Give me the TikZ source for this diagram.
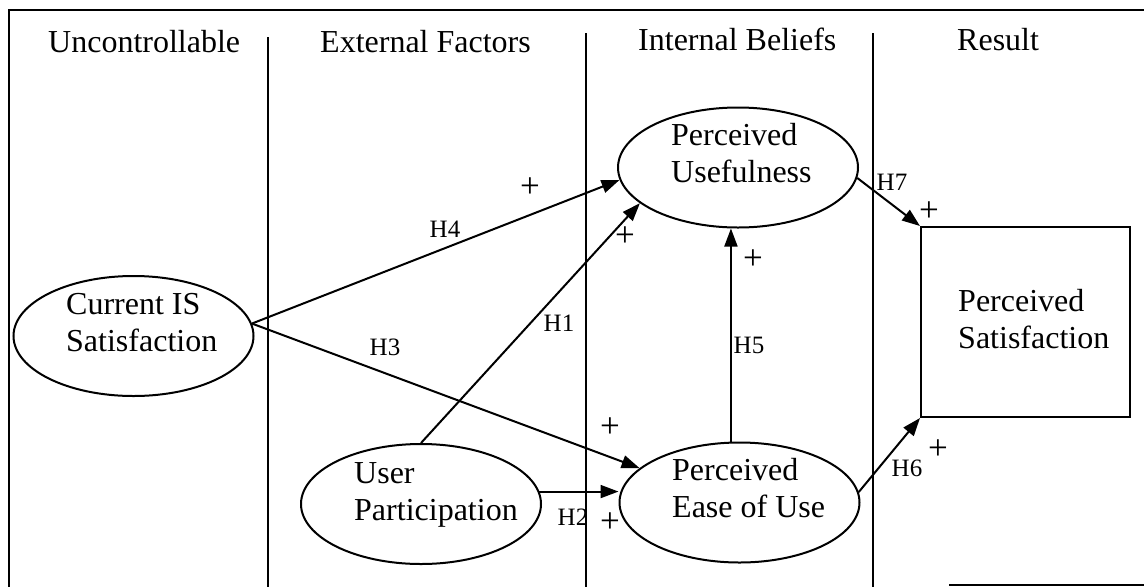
\documentclass[tikz,border=0pt]{standalone}
\usepackage{fontspec}
\setmainfont{Liberation Serif}
\usetikzlibrary{arrows.meta,shapes.geometric}
\begin{document}
\begin{tikzpicture}[x=1pt,y=-1pt,
  every node/.style={inner sep=0pt},
  head/.style={font=\fontsize{32}{38}\selectfont, anchor=base west},
  hyp/.style={font=\fontsize{25}{29}\selectfont},
  pls/.style={font=\fontsize{35}{38}\selectfont},
  construct/.style={draw, ellipse, line width=2pt, minimum width=240pt, minimum height=120pt},
  rule/.style={line width=2pt},
  arr/.style={line width=2pt, -{Triangle[length=18pt,width=13pt]}},
  blk/.style={font=\fontsize{32}{37}\selectfont, align=left, anchor=west}]
\useasboundingbox (0,0) rectangle (1144,587);
% frame
\coordinate (ftl) at (9,10);
\coordinate (ftr) at (1144,10);
\coordinate (fbl) at (9,587);
\coordinate (bra) at (949,585);
\coordinate (brb) at (1144,585);
\draw[rule] (ftr) -- (ftl) -- (fbl);
\draw[rule] (bra) -- (brb);
% dividers
\coordinate (d1a) at (268,37);  \coordinate (d1b) at (268,587);
\coordinate (d2a) at (586,33);  \coordinate (d2b) at (586,587);
\coordinate (d3a) at (873,33);  \coordinate (d3b) at (873,587);
\draw[rule] (d1a) -- (d1b);
\draw[rule] (d2a) -- (d2b);
\draw[rule] (d3a) -- (d3b);
% headers
\node[head] (h1) at (48,52) {Uncontrollable};
\node[head] (h2) at (320,52) {External Factors};
\node[head] (h3) at (638,50) {Internal Beliefs};
\node[head] (h4) at (957,50) {Result};
% constructs
\node[construct] (cis) at (133.5,336) {};
\node[construct] (up) at (421,504) {};
\node[construct] (pu) at (738,167.5) {};
\node[construct] (peou) at (739.5,502.5) {};
\node[draw, rule, minimum width=209pt, minimum height=190pt] (ps) at (1025.5,322) {};
\node[blk] (cist) at (66,323) {Current IS\\Satisfaction};
\node[blk] (upt) at (354,495) {User\\Participation};
\node[blk] (put) at (671,153.5) {Perceived\\Usefulness};
\node[blk] (peout) at (672,488.5) {Perceived\\Ease of Use};
\node[blk] (pst) at (958,319.5) {Perceived\\Satisfaction};
% connectors
\draw[arr] (cis.6) -- (pu.186);
\draw[arr] (cis.6) -- (peou.161);
\draw[arr] (up.north) -- (pu.200);
\draw[arr] (up.6) -- (up.6 -| peou.west);
\draw[arr] (peou.98) -- (peou.98 |- pu.south);
\draw[arr] (pu.355) -- (ps.north west);
\draw[arr] (peou.5) -- (ps.south west);
% hypothesis labels
\node[hyp] (lh4) at (445,229) {H4};
\node[hyp] (lh3) at (385,347) {H3};
\node[hyp] (lh1) at (559,323) {H1};
\node[hyp] (lh2) at (573,517) {H2};
\node[hyp] (lh5) at (749,345) {H5};
\node[hyp] (lh7) at (892,182) {H7};
\node[hyp] (lh6) at (907,468) {H6};
% plus signs
\node[pls] (p4) at (530,188) {+};
\node[pls] (p1) at (625,237) {+};
\node[pls] (p5) at (753,260) {+};
\node[pls] (p7) at (929,212) {+};
\node[pls] (p3) at (610,428) {+};
\node[pls] (p2) at (610,523) {+};
\node[pls] (p6) at (938,450) {+};
\end{tikzpicture}
\end{document}
